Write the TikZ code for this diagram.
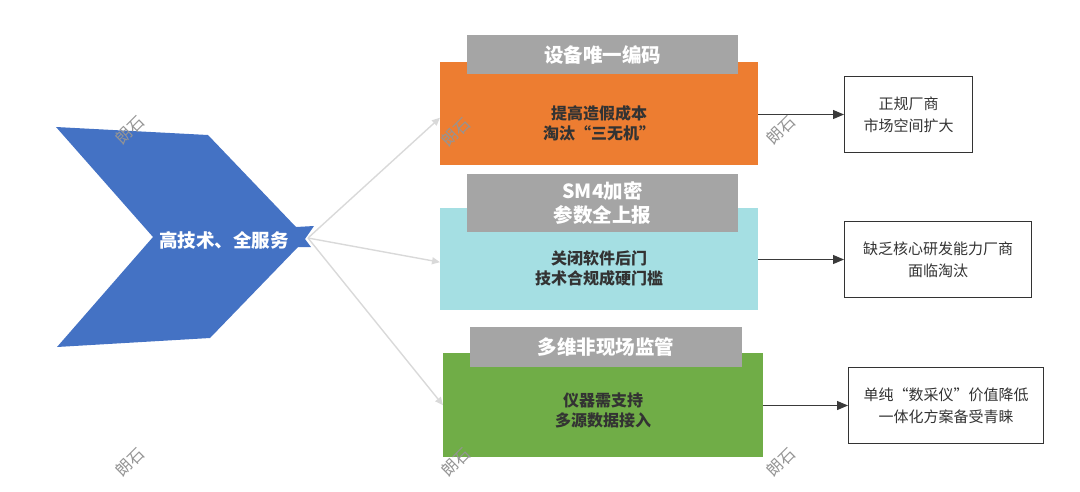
\documentclass[tikz,border=0pt]{standalone}
\usepackage{fontspec}
\setmainfont{Noto Sans CJK SC}
\usetikzlibrary{arrows.meta}
\definecolor{chevblue}{HTML}{4472C4}
\definecolor{orangebox}{HTML}{ED7D31}
\definecolor{cyanbox}{HTML}{A5DFE3}
\definecolor{greenbox}{HTML}{70AD47}
\definecolor{headgray}{HTML}{A5A5A5}
\definecolor{linkgray}{HTML}{D9D9D9}
\definecolor{darktext}{HTML}{333333}
\definecolor{arrowdark}{HTML}{3A3A3A}
\tikzset{
  mainbox/.style={draw=none, inner sep=0pt, anchor=north west},
  headbox/.style={fill=headgray, inner sep=0pt, anchor=north west, text=white,
    font=\fontsize{19.5}{24}\selectfont\bfseries, align=center},
  bodytext/.style={text=darktext, font=\fontsize{16}{20}\selectfont\bfseries, align=center},
  outbox/.style={draw=darktext, line width=1pt, fill=white, inner sep=0pt, anchor=north west,
    text=darktext, font=\fontsize{15}{22}\selectfont, align=center},
  graylink/.style={draw=linkgray, line width=1.4pt, -{Triangle[length=8pt,width=7pt]}},
  darkarrow/.style={draw=arrowdark, line width=1.2pt, -{Triangle[length=11pt,width=9pt]}},
  wmark/.style={text=black!42, font=\fontsize{16}{16}\selectfont, rotate=45, inner sep=0pt}
}
\begin{document}
\begin{tikzpicture}[x=1pt,y=-1pt]
\useasboundingbox (0,0) rectangle (1080,491);
% chevron
\fill[chevblue] (56,127) -- (208,135) -- (296,227) -- (314,226) -- (305,239) -- (311,247) -- (298,247) -- (210,338) -- (57,347) -- (153,237) -- cycle;
\node[text=white, font=\fontsize{18.5}{22}\selectfont\bfseries] (chev) at (224,240) {高技术、全服务};
\coordinate (tip) at (308,238);

% orange block
\node[mainbox, fill=orangebox, minimum width=318pt, minimum height=103pt] (ob) at (440,62) {};
\node[headbox, minimum width=271pt, minimum height=39pt] (oh) at (467,35) {设备唯一编码};
\node[bodytext] (ot) at (599,123) {提高造假成本\\淘汰“三无机”};

% cyan block
\node[mainbox, fill=cyanbox, minimum width=318pt, minimum height=102pt] (cb) at (440,208) {};
\node[headbox, minimum width=271pt, minimum height=58pt] (ch) at (467,174) {SM4加密\\参数全上报};
\node[bodytext] (ct) at (599,268) {关闭软件后门\\技术合规成硬门槛};

% green block
\node[mainbox, fill=greenbox, minimum width=320pt, minimum height=104pt] (gb) at (443,353) {};
\node[headbox, minimum width=272pt, minimum height=40pt] (gh) at (470,327) {多维非现场监管};
\node[bodytext] (gt) at (603,410) {仪器需支持\\多源数据接入};

% right boxes
\node[outbox, minimum width=128pt, minimum height=76pt] (r1) at (844,76) {正规厂商\\市场空间扩大};
\node[outbox, minimum width=187pt, minimum height=76pt] (r2) at (844,221) {缺乏核心研发能力厂商\\面临淘汰};
\node[outbox, minimum width=195pt, minimum height=76pt] (r3) at (848,367) {单纯“数采仪”价值降低\\一体化方案备受青睐};

% gray links
\draw[graylink] (tip) -- ([yshift=-4pt]ob.west);
\draw[graylink] (tip) -- ([yshift=-3pt]cb.west);
\draw[graylink] (tip) -- (gb.west);

% dark arrows
\draw[darkarrow] (ob.east |- r1.west) -- (r1.west);
\draw[darkarrow] (cb.east |- r2.west) -- (r2.west);
\draw[darkarrow] (gb.east |- r3.west) -- (r3.west);

% watermarks
\node[wmark] (w1) at (130,130) {朗石};
\node[wmark] (w2) at (456,132) {朗石};
\node[wmark] (w3) at (781,130) {朗石};
\node[wmark] (w4) at (130,462) {朗石};
\node[wmark] (w5) at (456,462) {朗石};
\node[wmark] (w6) at (781,462) {朗石};
\end{tikzpicture}
\end{document}
